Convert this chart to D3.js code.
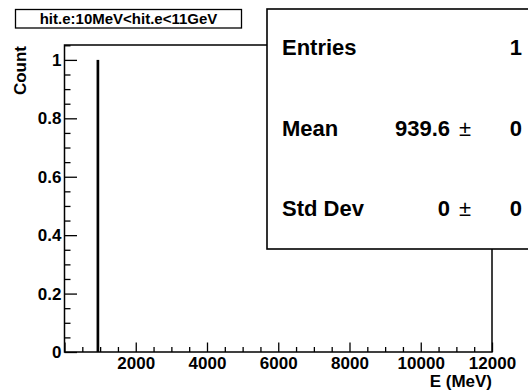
<!DOCTYPE html>
<html>
<head>
    <meta charset="utf-8">
    <title>hit.e</title>
    <script src="https://cdn.jsdelivr.net/npm/d3@7"></script>
    <style>
        body { margin: 0; background: #fff; }
        svg { display: block; font-family: "Liberation Sans", Arial, Helvetica, sans-serif; font-weight: bold; }
    </style>
</head>
<body>
    <svg width="528" height="390" id="mainsvg"></svg>
    <script>
        // histogram content: only non-empty bins
        const binLow = [900];
        const binHigh = [975];
        const binCount = [1];

        const xMajorTicks = [0, 2000, 4000, 6000, 8000, 10000, 12000];
        const xMinorTicks = [500, 1000, 1500, 2500, 3000, 3500, 4500, 5000, 5500, 6500, 7000, 7500,
            8500, 9000, 9500, 10500, 11000, 11500];
        const yMajorTicks = [0, 0.2, 0.4, 0.6, 0.8, 1];
        const yMinorTicks = [0.05, 0.1, 0.15, 0.25, 0.3, 0.35, 0.45, 0.5, 0.55, 0.65, 0.7, 0.75,
            0.85, 0.9, 0.95, 1.05];

        const statLabels = ['Entries', 'Mean', 'Std Dev'];
        const statValues = ['', '939.6', '0'];
        const statErrors = ['1', '0', '0'];

        const titleText = 'hit.e:10MeV<hit.e<11GeV';
        const xTitle = 'E (MeV)';
        const yTitle = 'Count';

        const svg = d3.select('svg');
        const margin = { top: 45, right: 36, bottom: 38, left: 64.5 };
        const width = +svg.attr('width');
        const height = +svg.attr('height');
        const innerWidth = width - margin.left - margin.right;
        const innerHeight = height - margin.top - margin.bottom;

        const xScale = d3.scaleLinear().domain([0, 12000]).range([0, innerWidth]);
        const yScale = d3.scaleLinear().domain([0, 1.051]).range([innerHeight, 0]);

        const g = svg.append('g')
            .attr('transform', `translate(${margin.left}, ${margin.top})`);

        // histogram bars
        g.selectAll('.bin').data(binCount)
            .join('rect')
            .attr('class', 'bin')
            .attr('x', (d, i) => xScale(binLow[i]))
            .attr('width', (d, i) => xScale(binHigh[i]) - xScale(binLow[i]))
            .attr('y', d => yScale(d))
            .attr('height', d => yScale(0) - yScale(d))
            .attr('fill', 'black');

        // x axis, ticks pointing inward
        const xAxis = d3.axisBottom(xScale)
            .tickValues(xMajorTicks)
            .tickSizeInner(-9.5)
            .tickSizeOuter(0)
            .tickPadding(5)
            .tickFormat(d => d === 0 ? '' : d);
        const xAxisG = g.append('g')
            .attr('transform', `translate(0, ${innerHeight})`)
            .call(xAxis);
        const xMinorG = g.append('g')
            .attr('transform', `translate(0, ${innerHeight})`)
            .call(d3.axisBottom(xScale).tickValues(xMinorTicks).tickSizeInner(-5).tickSizeOuter(0).tickFormat(''));

        // y axis
        const yAxis = d3.axisLeft(yScale)
            .tickValues(yMajorTicks)
            .tickSizeInner(-12.5)
            .tickSizeOuter(0)
            .tickPadding(3)
            .tickFormat(d => String(d));
        const yAxisG = g.append('g').call(yAxis);
        const yMinorG = g.append('g')
            .call(d3.axisLeft(yScale).tickValues(yMinorTicks).tickSizeInner(-6).tickSizeOuter(0).tickFormat(''));

        [xAxisG, xMinorG, yAxisG, yMinorG].forEach(a => {
            a.selectAll('.domain').remove();
            a.selectAll('.tick line').attr('stroke', 'black').attr('stroke-width', 1.3);
        });
        g.selectAll('.tick text')
            .attr('font-family', '"Liberation Sans", Arial, sans-serif')
            .attr('font-weight', 'bold')
            .attr('font-size', '17px')
            .attr('fill', 'black');

        // frame
        g.append('rect')
            .attr('x', 0).attr('y', 0)
            .attr('width', innerWidth).attr('height', innerHeight)
            .attr('fill', 'none')
            .attr('stroke', 'black')
            .attr('stroke-width', 1.5);

        // axis titles
        svg.append('text')
            .attr('x', margin.left + innerWidth)
            .attr('y', 387)
            .attr('text-anchor', 'end')
            .attr('font-size', '17px')
            .text(xTitle);
        svg.append('text')
            .attr('transform', 'translate(26, 46) rotate(-90)')
            .attr('text-anchor', 'end')
            .attr('font-size', '17px')
            .text(yTitle);

        // title box
        svg.append('rect')
            .attr('x', 15.5).attr('y', 9.5)
            .attr('width', 226).attr('height', 18.5)
            .attr('fill', 'white')
            .attr('stroke', 'black')
            .attr('stroke-width', 1.3);
        svg.append('text')
            .attr('x', 128.5)
            .attr('y', 24)
            .attr('text-anchor', 'middle')
            .attr('font-size', '15px')
            .text(titleText);

        // stats box
        const statsG = svg.append('g');
        statsG.append('rect')
            .attr('x', 267).attr('y', 9)
            .attr('width', 300).attr('height', 240)
            .attr('fill', 'white')
            .attr('stroke', 'black')
            .attr('stroke-width', 1.6);
        const rowY = d3.scalePoint().domain(statLabels).range([55, 216]);
        statLabels.forEach((lab, i) => {
            statsG.append('text')
                .attr('x', 282).attr('y', rowY(lab))
                .attr('font-size', '22px')
                .text(lab);
            if (statValues[i] !== '') {
                statsG.append('text')
                    .attr('x', 450).attr('y', rowY(lab))
                    .attr('text-anchor', 'end')
                    .attr('font-size', '22px')
                    .text(statValues[i]);
                statsG.append('text')
                    .attr('x', 459).attr('y', rowY(lab))
                    .attr('font-size', '22px')
                    .attr('font-weight', 'normal')
                    .text('\u00b1');
            }
            statsG.append('text')
                .attr('x', 522).attr('y', rowY(lab))
                .attr('text-anchor', 'end')
                .attr('font-size', '22px')
                .text(statErrors[i]);
        });
    </script>
</body>
</html>
